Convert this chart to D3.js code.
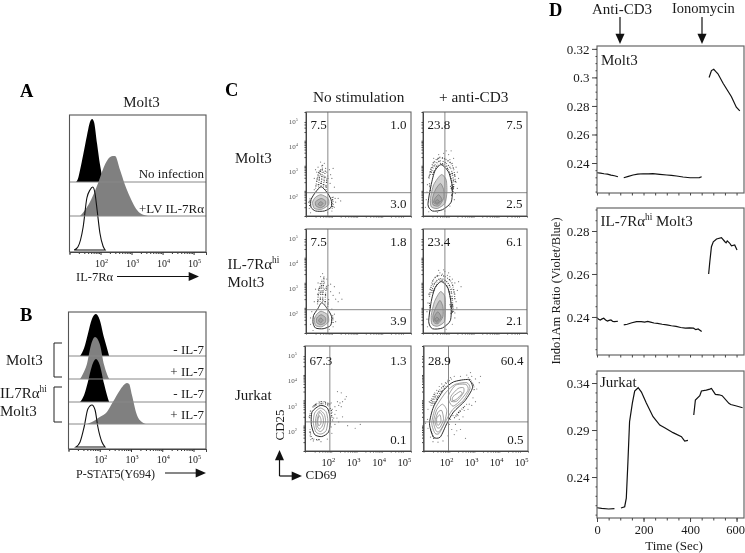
<!DOCTYPE html>
<html>
<head>
<meta charset="utf-8">
<script src="https://cdn.jsdelivr.net/npm/d3@7"></script>
<style>
  html, body { margin: 0; padding: 0; background: #fff; }
  svg { display: block; filter: blur(0.35px); }
  text { font-family: "Liberation Serif", serif; fill: #1a1a1a; }
</style>
</head>
<body>
<svg id="chart" width="745" height="553"></svg>
<script>
// histograms: [log10 intensity, height in px-ish counts]
const histAblack = [[1.21,0],[1.27,3],[1.34,12],[1.44,27],[1.56,46],[1.66,60],[1.73,63],[1.79,60],[1.89,38],[1.98,18],[2.08,3],[2.15,0]]
const histAgray = [[1.34,0],[1.5,6],[1.66,14],[1.82,25],[1.98,38],[2.15,52],[2.31,59],[2.4,60],[2.47,60],[2.63,46],[2.79,31],[2.95,19],[3.11,9],[3.27,3],[3.53,0]]
const histAopen = [[1.15,0],[1.27,3],[1.44,23],[1.56,52],[1.66,60],[1.75,63],[1.82,57],[1.89,40],[1.98,17],[2.08,4],[2.15,0]]
const histB1 = [[1.37,0],[1.5,8],[1.62,22],[1.75,37],[1.88,42],[2.0,36],[2.14,18],[2.23,8],[2.3,0]]
const histB2 = [[1.37,0],[1.46,5],[1.59,15],[1.72,34],[1.85,42],[2.0,35],[2.14,14],[2.23,5],[2.3,0]]
const histB3 = [[1.37,0],[1.5,7],[1.62,20],[1.75,36],[1.88,43],[2.0,37],[2.14,18],[2.23,7],[2.3,0]]
const histB4 = [[1.59,0],[1.75,2],[2.0,7],[2.23,12],[2.42,22],[2.65,34],[2.87,41],[2.94,40],[3.03,29],[3.19,9],[3.35,2],[3.48,0]]
const histB5 = [[1.24,0],[1.37,5],[1.5,20],[1.62,38],[1.75,42],[1.85,37],[1.94,20],[2.07,5],[2.17,0]]
const histDecades = [2, 3, 4, 5]
const histRowLabelsA = ['No infection', '+LV IL-7Rα']
const histRowLabelsB = ['- IL-7', '+ IL-7', '- IL-7', '+ IL-7']

// flow plots, all in log10 units
const flowDecades = [2, 3, 4, 5]
const flowCols = ['No stimulation', '+ anti-CD3']
const quadValues = [
  ['7.5', '1.0', '3.0'], ['23.8', '7.5', '2.5'],
  ['7.5', '1.8', '3.9'], ['23.4', '6.1', '2.1'],
  ['67.3', '1.3', '0.1'], ['28.9', '60.4', '0.5']
]
const ringsMoltNo = [
  [[1.72,2.42],[1.95,2.2],[2.12,1.9],[2.12,1.6],[1.85,1.45],[1.5,1.45],[1.32,1.6],[1.32,1.9],[1.5,2.2]],
  [[1.72,2.1],[2.0,1.95],[2.02,1.7],[1.75,1.52],[1.45,1.55],[1.38,1.8],[1.5,2.0]],
  [[1.72,1.95],[1.9,1.85],[1.88,1.68],[1.7,1.58],[1.52,1.65],[1.5,1.82]],
  [[1.7,1.82],[1.8,1.75],[1.7,1.66],[1.6,1.72]]
]
const speckMoltNo = [
  [[1.5,2.35],[1.58,2.8],[1.65,3.05]], [[1.62,2.4],[1.66,2.85],[1.72,3.2]], [[1.72,2.45],[1.76,2.95],[1.78,3.3]],
  [[1.82,2.4],[1.85,2.8],[1.9,3.1]], [[1.92,2.3],[1.95,2.7],[2.0,2.9]], [[2.16,2.0],[2.2,1.7],[2.14,1.5]], [[1.28,1.95],[1.26,1.6]]
]
const dotsMoltNo = [[1.6,2.5],[1.7,2.55],[1.8,2.5],[1.9,2.45],[1.55,2.65],[1.65,2.7],[1.75,2.7],[1.85,2.65],[1.95,2.6],[1.6,2.85],[1.7,2.9],[1.8,2.85],[1.9,2.8],[2.0,2.75],[1.55,3.0],[1.68,3.05],[1.82,3.0],[1.95,3.0],[2.1,2.9],[1.6,3.2],[1.75,3.25],[1.9,3.15],[2.05,3.1],[2.2,3.15],[1.7,3.4],[1.85,3.35],[2.25,2.4],[2.2,2.0],[2.3,1.8],[2.4,1.95],[2.5,1.85],[2.25,1.6],[1.25,1.55],[1.3,1.38],[2.15,1.45],[1.98,1.38],[1.45,2.3],[2.08,2.55],[2.15,2.75],[1.45,2.75],[1.5,3.1],[2.28,1.95],[2.18,1.75],[1.22,1.8]]

const ringsMoltCd3 = [
  [[1.85,3.3],[2.15,3.0],[2.3,2.4],[2.25,1.8],[1.9,1.5],[1.5,1.45],[1.32,1.7],[1.45,2.5],[1.6,3.05]],
  [[1.85,2.9],[2.05,2.7],[2.08,2.2],[2.0,1.75],[1.7,1.55],[1.45,1.62],[1.42,1.95],[1.55,2.5]],
  [[1.82,2.55],[1.95,2.3],[1.95,1.95],[1.75,1.65],[1.52,1.7],[1.5,1.95],[1.62,2.3]],
  [[1.75,2.1],[1.88,1.9],[1.72,1.72],[1.55,1.78],[1.6,1.95]],
  [[1.7,1.9],[1.78,1.82],[1.68,1.76],[1.6,1.82]]
]
const speckMoltCd3 = [
  [[1.42,2.9],[1.6,3.3],[1.85,3.45],[2.2,3.2],[2.35,2.6],[2.32,2.15]],
  [[1.5,2.9],[1.66,3.2],[1.85,3.35],[2.12,3.12],[2.28,2.6],[2.26,2.2]],
  [[1.36,2.75],[1.55,3.4],[1.85,3.58],[2.28,3.3],[2.42,2.6]],
  [[2.22,2.45],[2.3,2.2],[2.26,2.05]], [[2.3,2.5],[2.36,2.25]], [[1.38,2.55],[1.42,2.2]]
]
const dotsMoltCd3 = [[1.5,3.2],[1.6,3.4],[1.7,3.5],[1.8,3.6],[1.9,3.55],[2.0,3.5],[2.1,3.45],[2.2,3.5],[2.3,3.35],[1.55,3.55],[1.75,3.7],[1.95,3.75],[2.05,3.85],[2.15,3.7],[2.35,3.55],[2.45,3.2],[2.5,3.0],[2.4,2.85],[2.45,2.6],[2.5,2.35],[2.42,2.15],[1.35,2.8],[1.3,2.5],[1.28,2.2],[1.4,3.0],[1.25,1.9],[1.22,1.6],[1.35,1.42],[1.7,1.4],[2.0,1.45],[2.2,1.65],[2.38,1.9],[2.55,2.75],[2.25,3.85],[1.65,3.25],[2.08,3.25],[1.88,3.3],[2.28,2.95]]

const ringsIl7No = [
  [[1.75,2.46],[1.98,2.2],[2.14,1.9],[2.1,1.55],[1.8,1.42],[1.5,1.45],[1.4,1.65],[1.42,1.95],[1.58,2.2]],
  [[1.72,2.12],[1.98,1.98],[2.02,1.7],[1.75,1.5],[1.5,1.55],[1.45,1.8],[1.55,2.0]],
  [[1.72,1.98],[1.9,1.86],[1.88,1.66],[1.7,1.58],[1.55,1.66],[1.55,1.85]],
  [[1.7,1.85],[1.8,1.76],[1.7,1.66],[1.62,1.75]]
]
const speckIl7No = [
  [[1.58,2.4],[1.62,2.85],[1.7,3.25]], [[1.68,2.5],[1.72,2.95],[1.76,3.4]], [[1.78,2.5],[1.8,3.0],[1.84,3.5]],
  [[1.88,2.4],[1.9,2.85],[1.95,3.2]], [[1.98,2.3],[2.02,2.6]], [[2.18,1.95],[2.2,1.6]]
]
const dotsIl7No = [[1.6,2.55],[1.7,2.6],[1.8,2.55],[1.88,2.5],[1.58,2.8],[1.68,2.85],[1.78,2.8],[1.9,2.75],[1.62,3.0],[1.72,3.05],[1.85,3.0],[1.95,3.0],[1.6,3.25],[1.75,3.3],[1.85,3.25],[2.0,3.15],[1.7,3.5],[1.82,3.45],[1.95,3.4],[1.78,3.62],[2.1,2.9],[2.2,2.75],[2.3,2.6],[2.45,2.85],[2.55,2.6],[2.4,2.5],[2.15,2.2],[2.25,2.0],[2.3,1.7],[2.2,1.5],[1.3,1.6],[1.3,1.85],[1.35,2.1],[1.45,2.5],[1.5,3.0],[2.1,3.2],[2.25,3.1],[2.05,1.4],[1.4,1.35]]

const ringsIl7Cd3 = [
  [[1.85,3.3],[2.12,3.05],[2.25,2.4],[2.22,1.75],[1.9,1.45],[1.5,1.42],[1.35,1.7],[1.45,2.5],[1.6,3.05]],
  [[1.82,2.9],[2.0,2.7],[2.02,2.2],[1.98,1.7],[1.7,1.52],[1.48,1.6],[1.45,1.95],[1.58,2.5]],
  [[1.8,2.55],[1.92,2.3],[1.92,1.9],[1.72,1.62],[1.55,1.68],[1.52,1.95],[1.65,2.3]],
  [[1.72,2.1],[1.85,1.88],[1.7,1.68],[1.56,1.75],[1.6,1.95]],
  [[1.68,1.88],[1.76,1.8],[1.66,1.72],[1.6,1.8]]
]
const speckIl7Cd3 = [
  [[1.45,2.85],[1.62,3.28],[1.85,3.42],[2.15,3.2],[2.3,2.6],[2.3,2.05]],
  [[1.52,2.85],[1.68,3.18],[1.85,3.34],[2.08,3.12],[2.24,2.6],[2.24,2.15]],
  [[1.38,2.7],[1.56,3.42],[1.85,3.55],[2.25,3.3],[2.4,2.6]],
  [[2.2,2.4],[2.28,2.15],[2.24,2.0]], [[2.3,2.4],[2.35,2.1]], [[1.38,2.45],[1.42,2.1]]
]
const dotsIl7Cd3 = [[1.5,3.2],[1.6,3.45],[1.7,3.55],[1.8,3.65],[1.9,3.6],[2.0,3.7],[2.1,3.55],[2.2,3.5],[2.3,3.4],[1.75,3.75],[1.95,3.77],[2.15,3.65],[2.4,3.25],[2.55,3.3],[2.65,3.1],[2.5,2.95],[2.4,2.8],[2.45,2.5],[2.48,2.25],[2.4,2.05],[1.35,2.8],[1.32,2.45],[1.28,2.1],[1.4,3.0],[1.28,1.8],[1.3,1.5],[2.05,1.4],[2.3,1.6],[2.4,1.85],[1.65,3.3],[2.08,3.3],[1.88,3.4],[2.28,3.0]]

const ringsJurkatNo = [
  [[1.72,3.05],[2.0,2.95],[2.12,2.5],[2.05,2.0],[1.78,1.82],[1.5,1.9],[1.37,2.3],[1.4,2.8]],
  [[1.72,2.95],[1.95,2.8],[2.02,2.45],[1.95,2.05],[1.75,1.92],[1.55,2.0],[1.45,2.35],[1.5,2.75]],
  [[1.72,2.85],[1.88,2.7],[1.93,2.45],[1.85,2.12],[1.72,2.02],[1.58,2.12],[1.53,2.4],[1.58,2.68]],
  [[1.7,2.78],[1.82,2.62],[1.85,2.4],[1.78,2.2],[1.68,2.12],[1.6,2.25],[1.6,2.5]],
  [[1.68,2.65],[1.75,2.5],[1.74,2.32],[1.66,2.25],[1.62,2.42]]
]
const speckJurkatNo = [
  [[1.42,2.98],[1.72,3.12],[2.05,3.05],[2.2,2.7]], [[1.45,3.02],[1.72,3.2],[2.12,3.1]],
  [[1.32,2.1],[1.4,1.75],[1.7,1.7]], [[2.15,2.75],[2.22,2.4]], [[1.3,2.55],[1.34,2.85]]
]
const dotsJurkatNo = [[2.2,2.9],[2.3,3.0],[2.35,2.85],[2.45,3.05],[2.5,3.15],[2.6,3.2],[2.7,3.3],[2.75,3.4],[2.4,3.2],[2.55,3.0],[2.25,2.55],[2.3,2.3],[2.45,2.4],[2.6,2.6],[2.8,2.25],[3.1,2.15],[3.3,2.3],[2.4,3.6],[2.55,3.55],[1.35,1.7],[1.45,1.65],[1.6,1.68],[1.75,1.62],[1.3,2.0],[1.28,2.6],[1.32,1.85],[2.15,2.2],[2.18,1.95],[2.0,1.72],[2.15,3.15],[1.9,3.2],[2.3,2.7],[2.38,2.55],[2.1,3.1]]

const ringsJurkatCd3 = [
  [[1.52,1.8],[1.36,2.33],[1.52,2.99],[1.92,3.65],[2.32,3.98],[2.92,4.07],[3.08,3.75],[2.79,3.25],[2.32,2.79],[2.05,2.33],[1.79,1.8]],
  [[1.58,1.95],[1.45,2.35],[1.6,2.95],[2.0,3.55],[2.38,3.88],[2.85,3.95],[2.98,3.72],[2.72,3.25],[2.28,2.88],[1.98,2.38],[1.75,1.95]],
  [[1.62,2.05],[1.52,2.4],[1.65,2.88],[1.88,3.1],[2.05,2.85],[1.95,2.35],[1.75,2.02]],
  [[1.66,2.18],[1.58,2.42],[1.7,2.78],[1.85,2.85],[1.92,2.5],[1.78,2.18]],
  [[1.66,2.3],[1.65,2.55],[1.78,2.68],[1.82,2.45],[1.74,2.28]],
  [[2.15,3.2],[2.12,3.45],[2.4,3.85],[2.82,3.88],[2.9,3.65],[2.55,3.2],[2.3,3.02]],
  [[2.22,3.22],[2.22,3.42],[2.5,3.72],[2.72,3.75],[2.72,3.55],[2.45,3.22]],
  [[2.28,3.25],[2.3,3.4],[2.58,3.6],[2.66,3.52],[2.42,3.28]]
]
const speckJurkatCd3 = [
  [[1.42,3.05],[1.65,3.5],[1.95,3.85],[2.25,4.1]], [[1.5,3.05],[1.72,3.45],[2.0,3.8]], [[1.38,3.15],[1.58,3.55]],
  [[2.45,2.7],[2.7,2.95],[2.85,3.1]], [[2.35,2.55],[2.6,2.85]], [[2.9,4.15],[3.1,3.9],[3.15,3.65]], [[1.4,2.1],[1.55,1.7]]
]
const dotsJurkatCd3 = [[1.3,2.9],[1.28,2.5],[1.3,2.15],[1.4,1.8],[1.5,1.62],[1.7,1.6],[1.9,1.65],[2.1,1.85],[2.25,2.1],[2.4,2.3],[2.55,2.5],[2.7,2.6],[2.35,1.9],[2.6,2.1],[2.8,1.75],[2.5,2.65],[2.2,2.5],[2.3,2.65],[2.95,3.1],[3.1,3.35],[3.25,3.7],[3.35,3.95],[3.2,4.1],[3.05,4.2],[2.85,4.25],[2.6,4.2],[2.35,4.2],[2.1,4.05],[1.85,3.9],[1.65,3.65],[1.5,3.3],[3.0,4.35],[3.4,4.2],[1.75,3.8],[2.0,3.95],[2.2,4.15],[2.75,2.85],[2.9,2.9],[3.05,3.05],[3.2,3.2],[2.45,2.05],[2.15,2.3],[1.2,2.35],[1.35,3.2]]

// calcium traces: time in seconds, ratio
const timeTicks = [0, 200, 400, 600]
const molt3Seg1 = [[0,.2332],[15,.2329],[30,.2325],[45,.2322],[60,.2315],[75,.2311],[90,.2304]]
const molt3Seg2 = [[115,.2297],[135,.2307],[155,.2316],[175,.2322],[198,.2325],[220,.2324],[240,.2326],[270,.2321],[300,.2316],[320,.2313],[342,.2309],[370,.2302],[400,.2297],[425,.2297],[440,.2298],[450,.2304]]
const molt3Seg3 = [[482,.2999],[492,.3048],[502,.3057],[510,.3042],[520,.3025],[542,.2959],[560,.2912],[578,.2865],[599,.2791],[614,.2765]]
const il7Seg1 = [[0,.2397],[7,.2389],[14,.2386],[22,.2391],[29,.2394],[37,.2386],[45,.2381],[52,.2384],[60,.2386],[68,.2379],[75,.2378],[90,.238]]
const il7Seg2 = [[115,.2363],[130,.2366],[150,.2373],[170,.2378],[190,.2378],[205,.2376],[218,.2379],[230,.2376],[245,.2372],[260,.237],[280,.2366],[300,.2363],[320,.2359],[340,.2356],[360,.2351],[380,.2348],[398,.2349],[415,.2348],[425,.2341],[435,.2344],[450,.2332]]
const il7Seg3 = [[480,.26],[485,.2657],[492,.2727],[500,.275],[514,.2763],[535,.2769],[550,.275],[555,.2745],[560,.2754],[570,.2744],[578,.2731],[592,.2735],[602,.2712]]
const jurkatSeg1 = [[0,.2073],[20,.2066],[50,.206],[75,.2064]]
const jurkatSeg2 = [[103,.207],[119,.2084],[126,.2176],[133,.2563],[140,.2988],[152,.3187],[162,.3315],[177,.335],[191,.3304],[212,.3187],[241,.3042],[270,.2953],[291,.2925],[327,.2872],[363,.2829],[377,.2783],[391,.279]]
const jurkatSeg3 = [[416,.306],[423,.322],[442,.3265],[449,.3315],[470,.3325],[485,.3335],[492,.3343],[509,.3279],[525,.3275],[538,.3265],[567,.3184],[575,.3172],[596,.3158],[626,.3137]]

const svg = d3.select('#chart')

const txt = (g, x, y, s, size, anchor) => g.append('text')
  .attr('x', x).attr('y', y).attr('font-size', size)
  .attr('text-anchor', anchor || 'start').text(s)

// text with a raised part, 10² and IL-7Rαʰⁱ
const supTxt = (g, x, y, s, sup, size, anchor) => {
  const t = txt(g, x, y, s, size, anchor)
  t.append('tspan').attr('dy', -size * 0.38).attr('font-size', size * 0.62).text(sup)
  return t
}

const minorTicks = (lo, hi) => {
  const out = []
  for (let d = lo; d < hi; d++) {
    for (let k = 2; k < 10; k++) {
      const v = d + Math.log10(k)
      if (v <= hi) out.push(v)
    }
  }
  return out
}

// x2,y2 is the base of the head, the tip is head px further on
const arrowLine = (x1, y1, x2, y2, head) => {
  const a = Math.atan2(y2 - y1, x2 - x1)
  svg.append('line').attr('x1', x1).attr('y1', y1).attr('x2', x2).attr('y2', y2)
    .attr('stroke', '#111').attr('stroke-width', 1.2)
  const hx = (r, t) => x2 + r * Math.cos(a + t)
  const hy = (r, t) => y2 + r * Math.sin(a + t)
  svg.append('path')
    .attr('d', `M${hx(head, 0)},${hy(head, 0)}L${hx(head * .8, 2.2)},${hy(head * .8, 2.2)}L${hx(head * .8, -2.2)},${hy(head * .8, -2.2)}Z`)
    .attr('fill', '#111')
}

// ---- panels A and B
const drawHist = (box, rows, labels, labelY, tickLabelY) => {
  const x = d3.scaleLinear().domain([1, 5.4]).range([box.x0, box.x1])
  const g = svg.append('g')
  rows.forEach(r => {
    const y = h => r.base - h
    const area = d3.area().x(d => x(d[0])).y0(r.base).y1(d => y(d[1])).curve(d3.curveMonotoneX)
    g.append('path').datum(r.data).attr('d', area)
      .attr('fill', r.fill).attr('stroke', r.stroke).attr('stroke-width', r.stroke === 'none' ? 0 : 1.1)
  })
  rows.slice(0, -1).forEach(r => {
    g.append('line').attr('x1', box.x0).attr('x2', box.x1).attr('y1', r.base).attr('y2', r.base)
      .attr('stroke', '#888').attr('stroke-width', 1)
  })
  g.append('rect').attr('x', box.x0).attr('y', box.y0)
    .attr('width', box.x1 - box.x0).attr('height', box.y1 - box.y0)
    .attr('fill', 'none').attr('stroke', '#555').attr('stroke-width', 1.1)

  const ax = g.append('g').attr('transform', `translate(0,${box.y1})`)
  ax.call(d3.axisBottom(x).tickValues(minorTicks(1, 5)).tickSize(2).tickFormat(''))
  ax.append('g').call(d3.axisBottom(x).tickValues(histDecades).tickSize(3).tickFormat(''))
  ax.selectAll('path').attr('stroke', '#444')
  ax.selectAll('line').attr('stroke', '#333')
  histDecades.forEach(d => supTxt(g, x(d) + 1, tickLabelY, '10', d + '', 10, 'middle'))
  labels.forEach((s, i) => txt(g, box.x1 - 2, labelY[i], s, 13, 'end'))
}

drawHist({ x0: 69.5, x1: 206, y0: 115, y1: 252 }, [
  { base: 182, data: histAblack, fill: '#000', stroke: 'none' },
  { base: 216, data: histAgray, fill: '#808080', stroke: 'none' },
  { base: 250, data: histAopen, fill: 'none', stroke: '#111' }
], histRowLabelsA, [178, 213], 267)

drawHist({ x0: 68.5, x1: 206, y0: 312, y1: 449 }, [
  { base: 356, data: histB1, fill: '#000', stroke: 'none' },
  { base: 379, data: histB2, fill: '#808080', stroke: 'none' },
  { base: 402, data: histB3, fill: '#000', stroke: 'none' },
  { base: 424, data: histB4, fill: '#808080', stroke: 'none' },
  { base: 447, data: histB5, fill: 'none', stroke: '#111' }
], histRowLabelsB, [354, 376, 398, 419], 463)

const bold = (x, y, s) => txt(svg, x, y, s, 18.5).attr('font-weight', 'bold').style('fill', '#000')
bold(20, 97, 'A')
bold(20, 321, 'B')
bold(225, 96, 'C')
bold(549, 16, 'D')

txt(svg, 141.5, 107, 'Molt3', 15, 'middle')
txt(svg, 76, 281, 'IL-7Rα', 12.5)
arrowLine(117, 276.5, 192, 276.5, 7)
txt(svg, 76, 478, 'P-STAT5(Y694)', 12)
arrowLine(165, 473, 199, 473, 7)

const bracket = (x0, x1, y0, y1) => svg.append('path')
  .attr('d', d3.line()([[x1, y0], [x0, y0], [x0, y1], [x1, y1]]))
  .attr('fill', 'none').attr('stroke', '#222').attr('stroke-width', 1)
bracket(54, 62, 343, 377)
bracket(54, 62, 387, 422)
txt(svg, 6, 365, 'Molt3', 15)
supTxt(svg, 0, 398, 'IL7Rα', 'hi', 15)
txt(svg, 0, 416, 'Molt3', 15)

// ---- panel C
const flowBoxes = [
  { x0: 306, x1: 411, y0: 112, y1: 216, vx: 1.99, hy: 2.18, rings: ringsMoltNo, speck: speckMoltNo, dots: dotsMoltNo, centre: 1 },
  { x0: 423, x1: 527, y0: 112, y1: 216, vx: 2.0, hy: 2.18, rings: ringsMoltCd3, speck: speckMoltCd3, dots: dotsMoltCd3, centre: 1 },
  { x0: 306, x1: 411, y0: 229, y1: 333, vx: 1.99, hy: 2.18, rings: ringsIl7No, speck: speckIl7No, dots: dotsIl7No, centre: 1 },
  { x0: 423, x1: 527, y0: 229, y1: 333, vx: 2.0, hy: 2.18, rings: ringsIl7Cd3, speck: speckIl7Cd3, dots: dotsIl7Cd3, centre: 1 },
  { x0: 305, x1: 411, y0: 346, y1: 451, vx: 2.1, hy: 2.4, rings: ringsJurkatNo, speck: speckJurkatNo, dots: dotsJurkatNo, centre: 0 },
  { x0: 423.5, x1: 528, y0: 346, y1: 451, vx: 2.12, hy: 2.4, rings: ringsJurkatCd3, speck: speckJurkatCd3, dots: dotsJurkatCd3, centre: 0 }
]

flowBoxes.forEach((b, i) => {
  const x = d3.scaleLinear().domain([1.12, 5.3]).range([b.x0, b.x1])
  const y = d3.scaleLinear().domain([1.25, 5.4]).range([b.y1, b.y0])
  const g = svg.append('g')
  const cloud = g.append('g').style('filter', 'blur(0.45px)')
  const closed = d3.line().x(d => x(d[0])).y(d => y(d[1])).curve(d3.curveCardinalClosed.tension(0.3))
  const open = d3.line().x(d => x(d[0])).y(d => y(d[1])).curve(d3.curveCatmullRom)

  cloud.selectAll('.speck').data(b.speck).enter().append('path').attr('class', 'speck')
    .attr('d', open).attr('fill', 'none').attr('stroke', '#1c1c1c').attr('stroke-width', 1.2)
    .attr('stroke-dasharray', '0.8 1.3 1.2 0.9 0.6 1.9').attr('opacity', 0.85)
  cloud.selectAll('.dot').data(b.dots).enter().append('circle').attr('class', 'dot')
    .attr('cx', d => x(d[0])).attr('cy', d => y(d[1])).attr('r', 0.6)
    .attr('fill', '#333').attr('opacity', 0.65)
  cloud.selectAll('.ring').data(b.rings).enter().append('path').attr('class', 'ring')
    .attr('d', closed)
    .attr('fill', (d, k) => k === 0 || !b.centre ? 'none' : 'rgba(140,140,140,0.4)')
    .attr('stroke', (d, k) => k === 0 ? '#2a2a2a' : '#777')
    .attr('stroke-width', (d, k) => k === 0 ? 1 : 0.7)

  g.append('line').attr('x1', x(b.vx)).attr('x2', x(b.vx)).attr('y1', b.y0).attr('y2', b.y1)
    .attr('stroke', '#888').attr('stroke-width', 1)
  g.append('line').attr('x1', b.x0).attr('x2', b.x1).attr('y1', y(b.hy)).attr('y2', y(b.hy))
    .attr('stroke', '#888').attr('stroke-width', 1)
  g.append('rect').attr('x', b.x0).attr('y', b.y0)
    .attr('width', b.x1 - b.x0).attr('height', b.y1 - b.y0)
    .attr('fill', 'none').attr('stroke', '#666').attr('stroke-width', 1.1)

  const ax = g.append('g').attr('transform', `translate(0,${b.y1})`)
  ax.call(d3.axisBottom(x).tickValues(minorTicks(1.2, 5).filter(v => v > 1.2)).tickSize(1.5).tickFormat(''))
  const ay = g.append('g').attr('transform', `translate(${b.x0},0)`)
  ay.call(d3.axisLeft(y).tickValues(minorTicks(1.3, 5).filter(v => v > 1.3)).tickSize(1.5).tickFormat(''))
  ax.selectAll('path').attr('stroke', '#444')
  ay.selectAll('path').attr('stroke', '#444')
  ax.selectAll('line').attr('stroke', '#444')
  ay.selectAll('line').attr('stroke', '#444')

  if (i % 2 === 0) {
    flowDecades.forEach(d => {
      supTxt(g, b.x0 - 8, y(d) + 2, '10', d + '', 7, 'end').style('fill', '#555')
    })
  }
  if (i >= 4) {
    flowDecades.forEach(d => supTxt(g, x(d) + 1, 466, '10', d + '', 10.5, 'middle'))
  }

  const [ul, ur, lr] = quadValues[i]
  const topY = b.y0 + (i < 4 ? 17 : 19)
  const botY = b.y1 - (i < 4 ? 8 : 7)
  txt(g, b.x0 + 4.5, topY, ul, 13)
  txt(g, b.x1 - 4.5, topY, ur, 13, 'end')
  txt(g, b.x1 - 4.5, botY, lr, 13, 'end')
})

txt(svg, 313, 102, flowCols[0], 15.3)
txt(svg, 439, 102, flowCols[1], 15.3)
txt(svg, 235, 163, 'Molt3', 15)
supTxt(svg, 227.5, 269, 'IL-7Rα', 'hi', 15)
txt(svg, 227.5, 287, 'Molt3', 15)
txt(svg, 235, 400, 'Jurkat', 15)
txt(svg, 0, 0, 'CD25', 13, 'middle').attr('transform', 'translate(284,425) rotate(-90)')
txt(svg, 305.5, 479, 'CD69', 13)
arrowLine(279.5, 476, 279.5, 457, 7)
arrowLine(279.5, 476, 295, 476, 7)

// ---- panel D
const calcium = [
  { y0: 46, y1: 193, dom: [.219, .322], major: [.24, .26, .28, .3, .32], step: .005, fmt: d3.format('.2~f'), segs: [molt3Seg1, molt3Seg2, molt3Seg3] },
  { y0: 208, y1: 355, dom: [.2223, .2907], major: [.24, .26, .28], step: .005, fmt: d3.format('.2f'), segs: [il7Seg1, il7Seg2, il7Seg3] },
  { y0: 371, y1: 518, dom: [.1964, .3528], major: [.24, .29, .34], step: .01, fmt: d3.format('.2f'), segs: [jurkatSeg1, jurkatSeg2, jurkatSeg3] }
]

calcium.forEach((p, i) => {
  const x = d3.scaleLinear().domain([0, 632]).range([597, 744])
  const y = d3.scaleLinear().domain(p.dom).range([p.y1, p.y0])
  const g = svg.append('g')
  const line = d3.line().x(d => x(d[0])).y(d => y(d[1]))
  g.selectAll('.trace').data(p.segs).enter().append('path').attr('class', 'trace')
    .attr('d', line).attr('fill', 'none').attr('stroke', '#111').attr('stroke-width', 1.2)
  g.append('rect').attr('x', 597).attr('y', p.y0).attr('width', 147).attr('height', p.y1 - p.y0)
    .attr('fill', 'none').attr('stroke', '#666').attr('stroke-width', 1.2)

  const ax = g.append('g').attr('transform', `translate(0,${p.y1})`)
  ax.call(d3.axisBottom(x).tickValues(d3.range(0, 601, 50)).tickSize(2.5).tickFormat(''))
  const ay = g.append('g').attr('transform', 'translate(597,0)')
  ay.call(d3.axisLeft(y).tickValues(d3.range(p.major[0] - p.step * 4, p.dom[1], p.step).filter(v => v > p.dom[0])).tickSize(1.5).tickFormat(''))
  const am = g.append('g').attr('transform', 'translate(597,0)')
  am.call(d3.axisLeft(y).tickValues(p.major).tickSize(5).tickFormat(p.fmt))
  am.selectAll('text').attr('font-size', 13).attr('x', -7.5).style('font-family', '"Liberation Serif", serif')
  ;[ax, ay, am].forEach(a => {
    a.selectAll('path').attr('stroke', 'none')
    a.selectAll('line').attr('stroke', '#444')
  })
  if (i === 2) {
    const at = g.append('g').attr('transform', `translate(0,${p.y1})`)
    at.call(d3.axisBottom(x).tickValues(timeTicks).tickSize(4).tickPadding(3))
    at.selectAll('text').attr('font-size', 12.5).attr('dx', d => d === 600 ? -1.5 : 0).style('font-family', '"Liberation Serif", serif')
    at.select('path').attr('stroke', 'none')
    at.selectAll('line').attr('stroke', '#444')
  }
})

txt(svg, 601, 65, 'Molt3', 15)
supTxt(svg, 600.5, 226, 'IL-7Rα', 'hi', 15).append('tspan').attr('dy', 15 * 0.38).attr('font-size', 15).text(' Molt3')
txt(svg, 600, 387, 'Jurkat', 15)
txt(svg, 592, 13.5, 'Anti-CD3', 15)
txt(svg, 672, 13, 'Ionomycin', 14.5)
arrowLine(620, 17, 620, 37, 7)
arrowLine(702, 17, 702, 37, 7)
txt(svg, 674, 550, 'Time (Sec)', 13, 'middle')
txt(svg, 0, 0, 'Indo1Am Ratio (Violet/Blue)', 12.5, 'middle').attr('transform', 'translate(559.5,291) rotate(-90)')
</script>
</body>
</html>
